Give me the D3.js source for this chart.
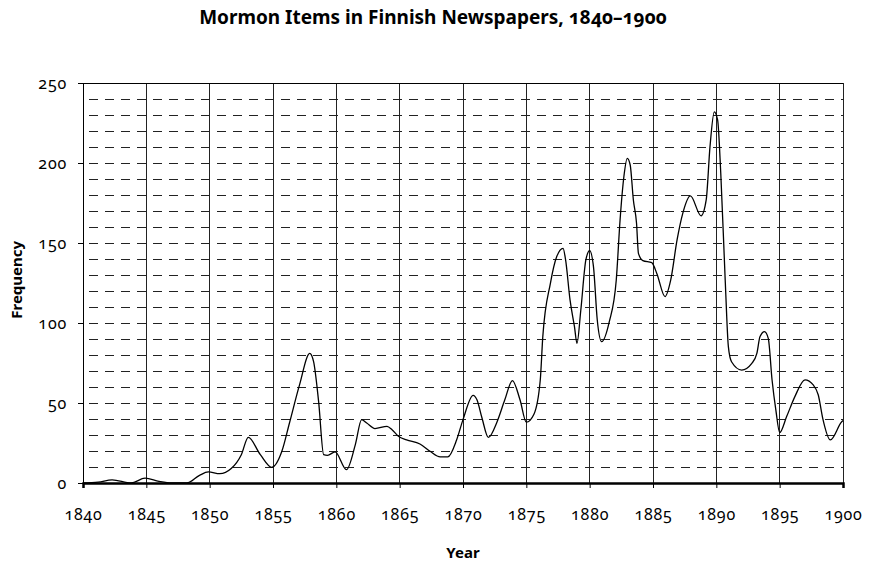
<!DOCTYPE html>
<html>
<head>
<meta charset="utf-8">
<script src="https://cdn.jsdelivr.net/npm/d3@7"></script>
<style>
  body { margin: 0; background: #fff; }
  svg text { font-family: "Noto Sans", "Open Sans", sans-serif; font-variant-numeric: oldstyle-nums; font-feature-settings: "onum" 1; }
</style>
</head>
<body>
<script>
// data
const years = [1840, 1841.2, 1842.3, 1843.8, 1844.9, 1846.0, 1847.0, 1848.2, 1849.2, 1849.9, 1850.8, 1851.7,
  1852.5, 1853.05, 1854.0, 1854.9, 1855.7, 1856.3, 1857.1, 1857.9, 1858.2, 1858.6, 1859.0, 1859.3, 1859.9,
  1860.8, 1861.5, 1862.0, 1862.4, 1863.05, 1864.0, 1864.4, 1864.9, 1865.55, 1866.6, 1867.4, 1868.2, 1868.8,
  1869.5, 1870.0, 1870.8, 1871.1, 1871.5, 1872.0, 1872.7, 1873.3, 1873.9, 1874.5, 1875.0, 1875.6, 1876.1,
  1876.3, 1876.9, 1877.4, 1877.9, 1878.1, 1878.45, 1878.8, 1879.0, 1879.3, 1879.7, 1880.0, 1880.3, 1880.6,
  1880.95, 1881.55, 1882.1, 1882.4, 1882.7, 1882.97, 1883.2, 1883.45, 1883.7, 1883.85, 1884.2, 1884.9,
  1885.3, 1885.95, 1886.4, 1886.9, 1887.35, 1887.95, 1888.8, 1889.2, 1889.5, 1889.84, 1890.1, 1890.35,
  1890.7, 1890.95, 1891.2, 1892.0, 1892.8, 1893.2, 1893.45, 1893.8, 1894.1, 1894.4, 1894.7, 1895.0,
  1895.55, 1896.2, 1897.0, 1897.65, 1898.05, 1898.4, 1899.0, 1899.9, 1900];
const frequency = [0, 0.5, 2, 0, 3, 1, 0, 0, 4.8, 6.9, 5.8, 9,
  17.7, 28.5, 17.7, 9.8, 19.8, 37.5, 61.5, 81, 76, 51, 17.7, 17.3, 19.4,
  8.3, 24, 39.6, 37.5, 34, 35.4, 33.3, 29.2, 27, 24.4, 19.8, 16.3, 16.3,
  27, 39.6, 54.8, 52, 40.6, 28.5, 38.5, 52, 64, 52, 38, 43, 64.4,
  91.5, 124.8, 141.5, 146.7, 139.4, 114.4, 97.7, 87.3, 108, 139.4, 145.2, 135.2, 101.9,
  88.3, 100.8, 126.9, 164.4, 191.4, 202.9, 198.75, 176.9, 162.3, 143.5, 139, 137.7,
  131, 116.5, 126.9, 151.9, 168.5, 179.4, 167, 176.9, 210.2, 232, 226.9, 193.6,
  126.9, 85.2, 75.8, 70.6, 74.8, 81, 91.5, 94.6, 90.4, 64.4, 45.6, 31.5,
  41.5, 54, 64.4, 61.3, 55, 40.4, 26.9, 38.3, 39];
const xTicks = d3.range(1840, 1901, 5);
const yTicks = [0, 50, 100, 150, 200, 250];
const yGrid = d3.range(10, 250, 10);

const width = 870, height = 565;
const margin = { top: 83, right: 27, bottom: 82, left: 83 };

const svg = d3.select("body").append("svg")
    .attr("width", width)
    .attr("height", height);

const x = d3.scaleLinear().domain([1840, 1900]).range([margin.left, width - margin.right]);
const y = d3.scaleLinear().domain([0, 250]).range([height - margin.bottom, margin.top]);

// horizontal dashed grid
svg.append("g")
    .selectAll("line")
    .data(yGrid)
    .join("line")
    .attr("x1", x(1840)).attr("x2", x(1900))
    .attr("y1", d => y(d)).attr("y2", d => y(d))
    .attr("stroke", "#222")
    .attr("stroke-width", 1)
    .attr("stroke-dasharray", "9,7")
    .attr("stroke-dashoffset", -6)
    .attr("shape-rendering", "crispEdges");

// vertical lines every 5 years
svg.append("g")
    .selectAll("line")
    .data(xTicks)
    .join("line")
    .attr("x1", d => x(d)).attr("x2", d => x(d))
    .attr("y1", y(250)).attr("y2", y(0))
    .attr("stroke", "#222")
    .attr("stroke-width", 1)
    .attr("shape-rendering", "crispEdges");

// top border
svg.append("line")
    .attr("x1", x(1840)).attr("x2", x(1900))
    .attr("y1", y(250)).attr("y2", y(250))
    .attr("stroke", "#000")
    .attr("shape-rendering", "crispEdges");

// the series
let line = d3.line()
    .x((d, i) => x(years[i]))
    .y(d => y(d))
    .curve(d3.curveMonotoneX);

svg.append("path")
    .datum(frequency)
    .attr("d", line)
    .attr("fill", "none")
    .attr("stroke", "#000")
    .attr("stroke-width", 1.3);

// axes
const xAxis = svg.append("g")
    .attr("transform", `translate(0,${y(0)})`)
    .call(d3.axisBottom(x).tickValues(xTicks).tickFormat(d3.format("d")).tickSize(5).tickPadding(0));
xAxis.select(".domain").attr("stroke-width", 2.5);
xAxis.selectAll(".tick text").attr("dy", null).attr("y", 37);

const yAxis = svg.append("g")
    .attr("transform", `translate(${x(1840)},0)`)
    .call(d3.axisLeft(y).tickValues(yTicks).tickSize(5).tickPadding(11));

svg.selectAll(".tick text")
    .style("font-size", "16px")
    .style("letter-spacing", "0.8px")
    .attr("fill", "#000");
svg.selectAll(".tick line").attr("stroke", "#000");

// titles
svg.append("text")
    .attr("x", 433)
    .attr("y", 24)
    .attr("text-anchor", "middle")
    .style("font-size", "19px")
    .attr("font-weight", "bold")
    .text("Mormon Items in Finnish Newspapers, 1840–1900");

svg.append("text")
    .attr("x", x(1870))
    .attr("y", 558)
    .attr("text-anchor", "middle")
    .style("font-size", "15px")
    .attr("font-weight", "bold")
    .text("Year");

svg.append("text")
    .attr("transform", `translate(22,${y(127)}) rotate(-90)`)
    .attr("text-anchor", "middle")
    .style("font-size", "15px")
    .attr("font-weight", "bold")
    .text("Frequency");
</script>
</body>
</html>
